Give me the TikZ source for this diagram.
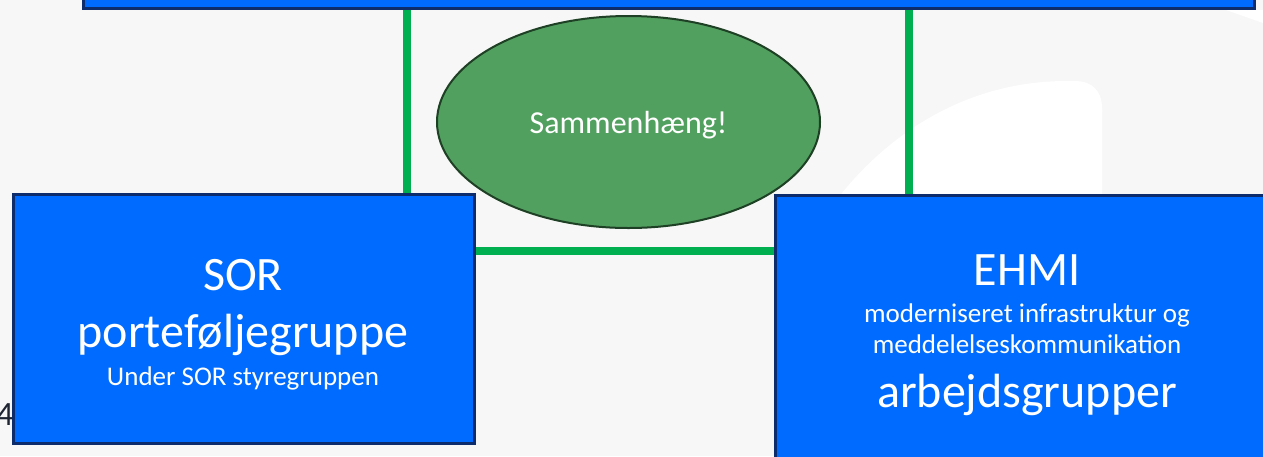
\documentclass[tikz,border=0pt]{standalone}
\usepackage{fontspec}
\setmainfont{Carlito}
\usepackage{tikz}
\usetikzlibrary{positioning,shapes.geometric,backgrounds}
\definecolor{slidebg}{RGB}{247,247,247}
\definecolor{boxblue}{RGB}{0,108,255}
\definecolor{boxline}{RGB}{12,44,108}
\definecolor{linkgreen}{RGB}{0,176,80}
\definecolor{hubgreen}{RGB}{82,160,96}
\definecolor{hubline}{RGB}{30,64,36}
\definecolor{numgray}{RGB}{30,36,50}

\begin{document}
\begin{tikzpicture}[
  x=1pt, y=-1pt,
  every node/.style={text=white, inner sep=0pt},
  group/.style={rectangle, draw=boxline, line width=3pt, fill=boxblue},
  hub/.style={ellipse, draw=hubline, line width=2pt, fill=hubgreen, text depth=0pt, font=\fontsize{32}{38}\selectfont},
  link/.style={draw=linkgreen, line width=7.5pt},
  bigtxt/.style={anchor=base, font=\fontsize{48}{56}\selectfont},
  smalltxt/.style={anchor=base, font=\fontsize{27}{32}\selectfont}
]
  \useasboundingbox (0,0) rectangle (1263,456);

  \node[group, minimum width=1171, minimum height=110] (top) at (668.5,-46.8) {};
  \node[hub, minimum width=383, minimum height=212] (hub) at (628.5,122) {Sammenhæng!};
  \node[group, minimum width=461, minimum height=249] (sor) at (243.5,318.5) {};
  \node[group, minimum width=505, minimum height=282] (ehmi) at (1028,336.5) {};

  \node[bigtxt] (sorname) at (243,290) {SOR};
  \node[bigtxt] (sorrole) at (243,347) {porteføljegruppe};
  \node[smalltxt] (sornote) at (243,385) {Under SOR styregruppen};
  \node[bigtxt] (ehminame) at (1027,285) {EHMI};
  \node[smalltxt] (ehminote) at (1027,322) {moderniseret infrastruktur og};
  \node[smalltxt] (ehminote2) at (1027,353) {meddelelseskommunikation};
  \node[bigtxt] (ehmirole) at (1027,407) {arbejdsgrupper};

  \begin{scope}[on background layer]
    \fill[slidebg] (0,0) rectangle (1263,456);
    % white swoosh behind the right box
    \fill[white] (829,209) -- (842,193) .. controls (885,140) and (960,81) .. (1067,81)
      -- (1075,81) .. controls (1092,81) and (1102,91) .. (1102,108) -- (1102,300) -- (829,300) -- cycle;
    \fill[white] (1226,10) -- (1263,23) -- (1263,10) -- cycle;
    \node[anchor=base, text=numgray, font=\fontsize{34}{40}\selectfont] (pagenum) at (5,425) {4};
    \coordinate (lx) at (407,0);
    \coordinate (rx) at (909,0);
    \coordinate (hy) at (0,251);
    \draw[link] (lx |- top.south) -- (lx |- sor.north);
    \draw[link] (rx |- top.south) -- (rx |- ehmi.north);
    \draw[link] (sor.east |- hy) -- (ehmi.west |- hy);
  \end{scope}
\end{tikzpicture}
\end{document}
